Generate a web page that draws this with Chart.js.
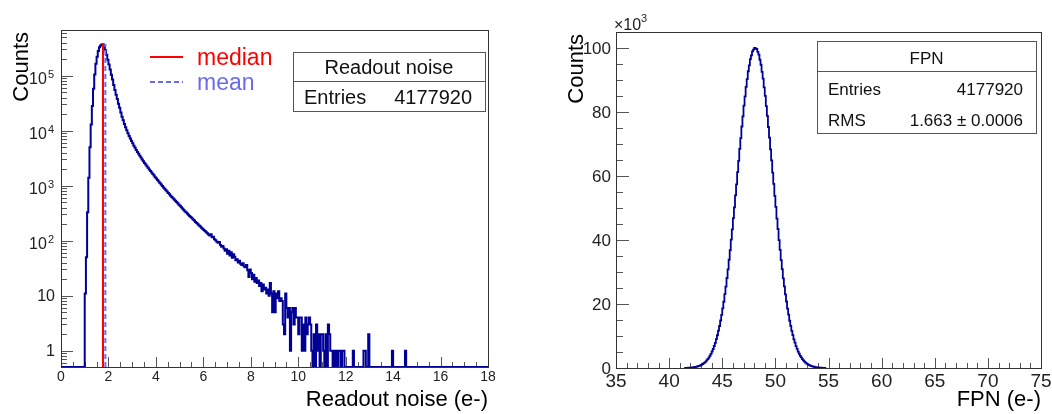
<!DOCTYPE html>
<html>
<head>
<meta charset="utf-8">
<script src="https://cdn.jsdelivr.net/npm/chart.js@4.4.1/dist/chart.umd.min.js"></script>
<style>
body { margin: 0; background: #fff; }
#wrap { position: relative; width: 1052px; height: 414px; }
canvas { position: absolute; top: 0; }
#noiseChart { left: 0; }
#fpnChart { left: 526px; }
</style>
</head>
<body>
<div id="wrap">
<canvas id="noiseChart" width="526" height="414"></canvas>
<canvas id="fpnChart" width="526" height="414"></canvas>
</div>
<script>
// readout noise histogram: bins of 0.05 e- starting at 1.00 e-, empty bins are 0
const noiseStart = 1.0;
const noiseBin = 0.05;
const noiseCounts = [
  11, 50, 330, 1400, 5000, 13000, 28000, 58000, 105000, 165000,          // 1.0
  220000, 280000, 330000, 355000, 368000, 372000, 340000, 290000, 240000, 195000, // 1.5
  160000, 130000, 104000, 85000, 68000, 55000, 45000, 37500, 31000, 26000, // 2.0
  21500, 18000, 15500, 13300, 11600, 10200, 9000, 8000, 7200, 6500,       // 2.5
  5900, 5350, 4900, 4450, 4100, 3800, 3500, 3250, 3000, 2780,             // 3.0
  2600, 2420, 2260, 2120, 1980, 1850, 1740, 1630, 1530, 1430,             // 3.5
  1350, 1270, 1190, 1120, 1050, 990, 930, 880, 830, 785,                  // 4.0
  740, 700, 660, 625, 590, 560, 530, 505, 480, 450,                       // 4.5
  430, 405, 385, 365, 345, 330, 312, 298, 282, 270,                       // 5.0
  255, 242, 232, 220, 210, 200, 190, 182, 172, 165,                       // 5.5
  156, 150, 142, 137, 130, 125, 131, 116, 118, 106,                       // 6.0
  102, 96, 92, 95, 84, 78, 80, 72, 66, 70,                                // 6.5
  58, 66, 54, 62, 49, 57, 51, 44, 46, 40,                                 // 7.0
  43, 38, 36, 39, 34, 33, 36, 29, 22, 30,                                 // 7.5
  26, 20, 24, 18, 21, 17, 19, 15, 17, 12,                                 // 8.0
  16, 13, 14, 11, 13, 10, 17, 11, 5, 12,                                  // 8.5
  5, 11, 9, 12, 8, 9, 8, 3, 2, 11,                                        // 9.0
  6, 4, 6, 1, 5, 6, 3, 6, 4, 4,                                           // 9.5
  2, 4, 4, 1, 3, 1, 4, 2, 3, 4,                                           // 10.0
  3, 1, 0, 2, 0, 3, 1, 2, 0, 2,                                           // 10.5
  2, 1, 0, 2, 0, 3, 2, 1, 1, 0,                                           // 11.0
  1, 0, 1, 0, 1, 1, 0, 1, 1, 0,                                           // 11.5
  0, 0, 0, 0, 0, 0, 1, 0, 0, 0,                                           // 12.0
  0, 0, 0, 0, 0, 1, 1, 0, 0, 2,                                           // 12.5
  0, 0, 0, 0, 0, 0, 0, 0, 0, 0,                                           // 13.0
  0, 0, 0, 0, 0, 0, 0, 0, 0, 1,                                           // 13.5
  0, 0, 0, 0, 0, 0, 0, 0, 0, 0,                                           // 14.0
  1                                                                       // 14.5
];
const noiseMedian = 1.77;
const noiseMean = 1.87;
const noiseMarkTop = 375000;
const noiseEntries = '4177920';
const noiseXTicks = [0, 2, 4, 6, 8, 10, 12, 14, 16, 18];
const noiseYTicks = [1, 10, 100, 1000, 10000, 100000];
const noiseYLabels = [['1', ''], ['10', ''], ['10', '2'], ['10', '3'], ['10', '4'], ['10', '5']];

// FPN histogram in units of 10^3 counts: bins of 0.1 e- starting at 41.5 e-
const fpnStart = 41.5;
const fpnBin = 0.1;
const fpnCounts = [
  0.04, 0.05, 0.07, 0.09, 0.11, 0.14, 0.17, 0.21, 0.26, 0.31,
  0.38, 0.47, 0.58, 0.69, 0.83, 1.0, 1.19, 1.43, 1.68, 2.02,
  2.36, 2.80, 3.26, 3.83, 4.43, 5.16, 5.94, 6.88, 7.85, 9.01,
  10.23, 11.66, 13.12, 14.85, 16.60, 18.63, 20.70, 23.07, 25.44, 28.13,
  30.82, 33.83, 36.79, 40.10, 43.30, 46.84, 50.22, 53.93, 57.40, 61.22,
  64.70, 68.45, 71.86, 75.47, 78.66, 82.02, 84.86, 87.85, 90.25, 92.74,
  94.60, 96.50, 97.72, 98.97, 99.50, 100.05,
  99.86, 99.68, 98.80, 97.90, 96.33, 94.77, 92.57, 90.42, 87.68, 85.03,
  81.85, 78.82, 75.31, 72.02, 68.30, 64.86, 61.05, 57.56, 53.79, 50.35,
  46.71, 43.43, 39.97, 36.90, 33.72, 30.92, 28.03, 25.53, 22.98, 20.78,
  18.55, 16.68, 14.77, 13.19, 11.60, 10.28, 8.96, 7.90, 6.84, 5.97,
  5.13, 4.46, 3.80, 3.29, 2.77, 2.38, 2.00, 1.70, 1.41, 1.20,
  0.98, 0.84, 0.68, 0.58, 0.46, 0.39, 0.30, 0.25, 0.20, 0.17,
  0.13, 0.11, 0.08, 0.07, 0.05, 0.04
];
const fpnEntries = '4177920';
const fpnRms = '1.663 \u00b1 0.0006';
const fpnXTicks = [35, 40, 45, 50, 55, 60, 65, 70, 75];
const fpnYTicks = [0, 20, 40, 60, 80, 100];

const FONT = '"Liberation Sans", Arial, sans-serif';
const NAVY = '#000096';
const noiseFloor = 0.506;

// each bin becomes a flat top, neighbouring bins joined by vertical steps
function histPoints(start, width, counts, floor) {
  const pts = [{ x: start, y: floor }];
  counts.forEach((c, i) => {
    const y = c > 0 ? c : floor;
    pts.push({ x: start + i * width, y: y }, { x: start + (i + 1) * width, y: y });
  });
  pts.push({ x: start + counts.length * width, y: floor });
  return pts;
}

function stepValues(lo, hi, step) {
  const out = [];
  for (let v = lo; v <= hi + 1e-9; v += step) out.push(+v.toFixed(6));
  return out;
}

// ROOT style frame with ticks on the inside of the left and bottom axes
const rootFrame = {
  id: 'rootFrame',
  beforeDatasetsDraw(chart, args, o) {
    const ctx = chart.ctx, a = chart.chartArea;
    const xs = chart.scales.x, ys = chart.scales.y;
    ctx.save();
    ctx.lineWidth = 1;
    ctx.strokeStyle = '#555';
    ctx.beginPath();
    o.xMinor.forEach(v => {
      const px = Math.round(xs.getPixelForValue(v)) + 0.5;
      ctx.moveTo(px, a.bottom); ctx.lineTo(px, a.bottom - o.xMinorLen);
    });
    o.xMajor.forEach(v => {
      const px = Math.round(xs.getPixelForValue(v)) + 0.5;
      ctx.moveTo(px, a.bottom); ctx.lineTo(px, a.bottom - o.xMajorLen);
    });
    o.yMinor.forEach(v => {
      const py = Math.round(ys.getPixelForValue(v)) + 0.5;
      if (py < a.top || py > a.bottom) return;
      ctx.moveTo(a.left, py); ctx.lineTo(a.left + o.yMinorLen, py);
    });
    o.yMajor.forEach(v => {
      const py = Math.round(ys.getPixelForValue(v)) + 0.5;
      ctx.moveTo(a.left, py); ctx.lineTo(a.left + o.yMajorLen, py);
    });
    ctx.stroke();
    ctx.strokeStyle = '#333';
    ctx.strokeRect(a.left + 0.5, a.top + 0.5, a.right - a.left, a.bottom - a.top);
    ctx.restore();
  },
  afterDraw(chart, args, o) {
    const ctx = chart.ctx, a = chart.chartArea;
    const xs = chart.scales.x, ys = chart.scales.y;
    ctx.save();
    ctx.fillStyle = '#222';
    // x tick labels
    ctx.font = o.xFont + 'px ' + FONT;
    ctx.textAlign = 'center';
    ctx.textBaseline = 'middle';
    o.xMajor.forEach(v => ctx.fillText(String(v), xs.getPixelForValue(v), o.xLabelY));
    // y tick labels
    ctx.textAlign = 'right';
    o.yMajor.forEach((v, i) => {
      const py = ys.getPixelForValue(v);
      const lab = o.yLabels[i];
      if (lab[1]) {
        ctx.font = o.supFont + 'px ' + FONT;
        const w = ctx.measureText(lab[1]).width;
        ctx.fillText(lab[1], o.yLabelX - 1, py - 1);
        ctx.font = o.yFont + 'px ' + FONT;
        ctx.fillText(lab[0], o.yLabelX - 2 - w, py + 4);
      } else {
        ctx.font = o.yFont + 'px ' + FONT;
        ctx.fillText(lab[0], o.yLabelX, py + 1);
      }
    });
    // axis titles
    ctx.fillStyle = '#000';
    ctx.font = '22px ' + FONT;
    ctx.textBaseline = 'alphabetic';
    ctx.textAlign = 'right';
    ctx.fillText(o.xTitle, a.right, 406);
    ctx.translate(o.yTitleX, a.top + 2);
    ctx.rotate(-Math.PI / 2);
    ctx.fillText('Counts', 0, 0);
    ctx.restore();
  }
};

function statsBox(ctx, x, y, w, headH, rows, title, rowH, font, baseOff) {
  ctx.save();
  ctx.fillStyle = '#fff';
  ctx.fillRect(x, y, w, headH + rows.length * rowH);
  ctx.strokeStyle = '#555';
  ctx.lineWidth = 1;
  ctx.strokeRect(x + 0.5, y + 0.5, w, headH + rows.length * rowH);
  ctx.beginPath();
  ctx.moveTo(x, y + headH + 0.5); ctx.lineTo(x + w, y + headH + 0.5);
  ctx.stroke();
  ctx.fillStyle = '#111';
  ctx.font = font + 'px ' + FONT;
  ctx.textBaseline = 'alphabetic';
  ctx.textAlign = 'center';
  ctx.fillText(title, x + w / 2, y + headH - baseOff);
  rows.forEach((r, i) => {
    const by = y + headH + (i + 1) * rowH - baseOff;
    ctx.textAlign = 'left';
    ctx.fillText(r[0], x + 11, by);
    ctx.textAlign = 'right';
    ctx.fillText(r[1], x + w - 13, by);
  });
  ctx.restore();
}

const noiseDecor = {
  id: 'noiseDecor',
  afterDraw(chart) {
    const ctx = chart.ctx;
    ctx.save();
    ctx.lineWidth = 2;
    ctx.strokeStyle = '#ff0000';
    ctx.beginPath(); ctx.moveTo(150, 57); ctx.lineTo(183, 57); ctx.stroke();
    ctx.strokeStyle = '#6a6aee';
    ctx.setLineDash([5, 3]);
    ctx.beginPath(); ctx.moveTo(150, 82); ctx.lineTo(183, 82); ctx.stroke();
    ctx.setLineDash([]);
    ctx.font = '23px ' + FONT;
    ctx.textAlign = 'left';
    ctx.textBaseline = 'alphabetic';
    ctx.fillStyle = '#ff0000';
    ctx.fillText('median', 197, 65);
    ctx.fillStyle = '#6a6aee';
    ctx.fillText('mean', 197, 90);
    ctx.restore();
    statsBox(ctx, 293, 52, 192, 29, [['Entries', noiseEntries]], 'Readout noise', 30, 20, 7);
  }
};

const fpnDecor = {
  id: 'fpnDecor',
  afterDraw(chart) {
    const ctx = chart.ctx;
    ctx.save();
    ctx.fillStyle = '#222';
    ctx.textBaseline = 'alphabetic';
    ctx.textAlign = 'left';
    ctx.font = '16px ' + FONT;
    ctx.fillText('\u00d710', 88, 30);
    ctx.font = '11px ' + FONT;
    ctx.fillText('3', 115, 22);
    ctx.restore();
    statsBox(ctx, 291, 41, 219, 30, [['Entries', fpnEntries], ['RMS', fpnRms]], 'FPN', 31, 17, 7);
  }
};

const noisePts = [{ x: 0, y: noiseFloor }]
  .concat(histPoints(noiseStart, noiseBin, noiseCounts, noiseFloor))
  .concat([{ x: 18, y: noiseFloor }]);

const noiseMinorY = [];
[0.1, 1, 10, 100, 1000, 10000, 100000].forEach(d => {
  for (let k = 2; k <= 9; k++) noiseMinorY.push(k * d);
});

new Chart(document.getElementById('noiseChart'), {
  type: 'line',
  data: {
    datasets: [
      { data: noisePts, borderColor: NAVY, borderWidth: 2, pointRadius: 0, tension: 0, order: 3 },
      { data: [{ x: noiseMedian, y: noiseFloor }, { x: noiseMedian, y: noiseMarkTop }],
        borderColor: '#ff0000', borderWidth: 2, pointRadius: 0, order: 1 },
      { data: [{ x: noiseMean, y: noiseFloor }, { x: noiseMean, y: noiseMarkTop }],
        borderColor: '#6a6aee', borderWidth: 2, borderDash: [5, 3], pointRadius: 0, order: 2 }
    ]
  },
  options: {
    responsive: false,
    animation: false,
    devicePixelRatio: 1,
    parsing: false,
    layout: { padding: { left: 61, top: 30, right: 38, bottom: 47 } },
    scales: {
      x: { type: 'linear', min: 0, max: 18, display: false },
      y: { type: 'logarithmic', min: noiseFloor, max: 677000, display: false }
    },
    plugins: {
      legend: { display: false },
      tooltip: { enabled: false },
      rootFrame: {
        xMajor: noiseXTicks, xMinor: stepValues(0, 18, 0.5), xMajorLen: 10, xMinorLen: 5,
        yMajor: noiseYTicks, yMinor: noiseMinorY, yMajorLen: 12, yMinorLen: 6,
        yLabels: noiseYLabels, xFont: 14, yFont: 16, supFont: 11,
        xLabelY: 377, yLabelX: 55, xTitle: 'Readout noise (e-)', yTitleX: 28
      }
    }
  },
  plugins: [rootFrame, noiseDecor]
});

const fpnPts = histPoints(fpnStart, fpnBin, fpnCounts, 0);

new Chart(document.getElementById('fpnChart'), {
  type: 'line',
  data: {
    datasets: [
      { data: fpnPts, borderColor: NAVY, borderWidth: 1.8, pointRadius: 0, tension: 0 }
    ]
  },
  options: {
    responsive: false,
    animation: false,
    devicePixelRatio: 1,
    parsing: false,
    layout: { padding: { left: 90, top: 32, right: 11, bottom: 46 } },
    scales: {
      x: { type: 'linear', min: 35, max: 75, display: false },
      y: { type: 'linear', min: 0, max: 105, display: false }
    },
    plugins: {
      legend: { display: false },
      tooltip: { enabled: false },
      rootFrame: {
        xMajor: fpnXTicks, xMinor: stepValues(35, 75, 1), xMajorLen: 10, xMinorLen: 5,
        yMajor: fpnYTicks, yMinor: stepValues(0, 105, 5), yMajorLen: 13, yMinorLen: 7,
        yLabels: fpnYTicks.map(v => [String(v), '']), xFont: 19, yFont: 17, supFont: 11,
        xLabelY: 382, yLabelX: 85, xTitle: 'FPN (e-)', yTitleX: 57
      }
    }
  },
  plugins: [rootFrame, fpnDecor]
});
</script>
</body>
</html>
